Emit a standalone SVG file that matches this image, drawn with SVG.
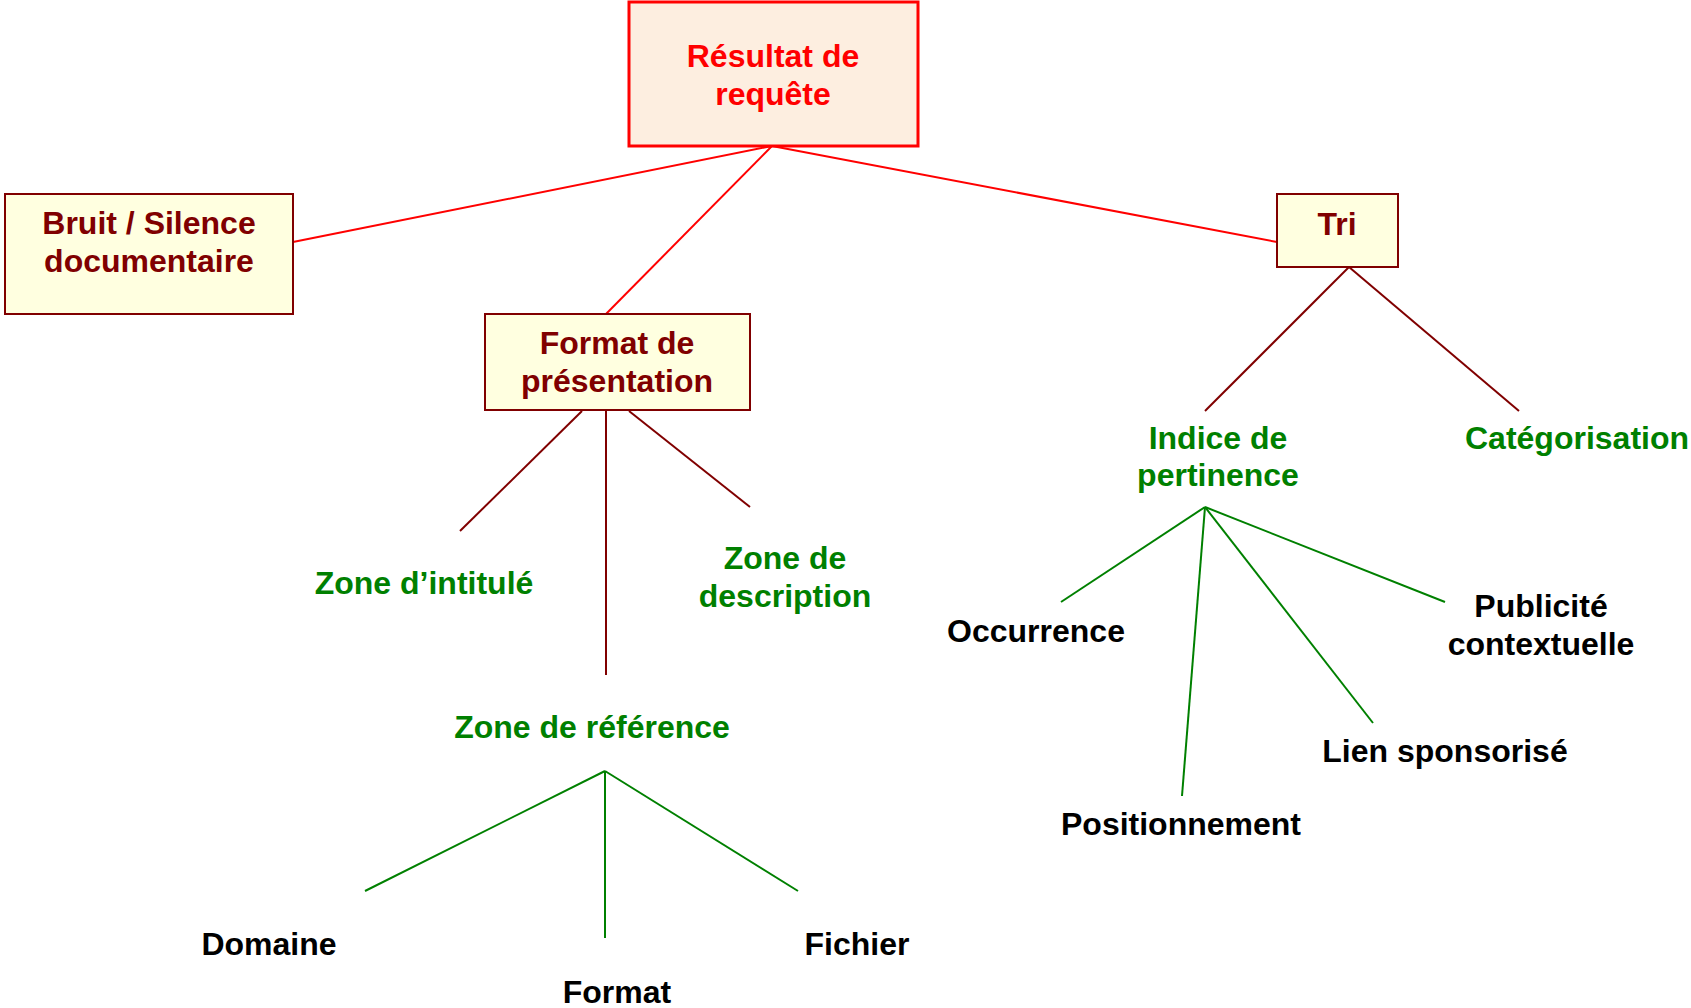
<svg xmlns="http://www.w3.org/2000/svg" width="1691" height="1008" viewBox="0 0 1691 1008">
<style>
text{font-family:"Liberation Sans",Arial,sans-serif;font-weight:bold;font-size:32px;text-anchor:middle}
.top{fill:#FDEEE0;stroke:#FF0000;stroke-width:3}
.box{fill:#FFFFE0;stroke:#800000;stroke-width:2}
.tr{fill:#FF0000}
.td{fill:#800000}
.tg{fill:#008000}
.tb{fill:#000000}
.lr{stroke:#FF0000;stroke-width:2;fill:none}
.ld{stroke:#800000;stroke-width:2;fill:none}
.lg{stroke:#008000;stroke-width:2;fill:none}
</style>
<rect width="1691" height="1008" fill="#FFFFFF"/>
<g id="connectors">
<line class="lr" x1="772" y1="146" x2="293" y2="242"/>
<line class="lr" x1="772" y1="146" x2="606" y2="314"/>
<line class="lr" x1="772" y1="146" x2="1277" y2="242"/>
<line class="ld" x1="582" y1="411" x2="460" y2="531"/>
<line class="ld" x1="606" y1="411" x2="606" y2="675"/>
<line class="ld" x1="629" y1="411" x2="750" y2="507"/>
<line class="ld" x1="1349" y1="267" x2="1205" y2="411"/>
<line class="ld" x1="1349" y1="267" x2="1519" y2="411"/>
<line class="lg" x1="605" y1="771" x2="365" y2="891"/>
<line class="lg" x1="605" y1="771" x2="605" y2="938"/>
<line class="lg" x1="605" y1="771" x2="798" y2="891"/>
<line class="lg" x1="1205" y1="507" x2="1061" y2="602"/>
<line class="lg" x1="1205" y1="507" x2="1182" y2="796"/>
<line class="lg" x1="1205" y1="507" x2="1373" y2="723"/>
<line class="lg" x1="1205" y1="507" x2="1445" y2="602"/>
</g>
<g id="resultat">
<rect class="top" x="629" y="2" width="289" height="144"/>
<text class="tr" x="773" y="67">Résultat de</text>
<text class="tr" x="773" y="105">requête</text>
</g>
<g id="bruit">
<rect class="box" x="5" y="194" width="288" height="120"/>
<text class="td" x="149" y="234">Bruit / Silence</text>
<text class="td" x="149" y="272">documentaire</text>
</g>
<g id="format-presentation">
<rect class="box" x="485" y="314" width="265" height="96"/>
<text class="td" x="617" y="354">Format de</text>
<text class="td" x="617" y="392">présentation</text>
</g>
<g id="tri">
<rect class="box" x="1277" y="194" width="121" height="73"/>
<text class="td" x="1337" y="235">Tri</text>
</g>
<g id="zone-intitule"><text class="tg" x="424" y="594">Zone d’intitulé</text></g>
<g id="zone-description">
<text class="tg" x="785" y="569">Zone de</text>
<text class="tg" x="785" y="607">description</text>
</g>
<g id="zone-reference"><text class="tg" x="592" y="738">Zone de référence</text></g>
<g id="domaine"><text class="tb" x="269" y="955">Domaine</text></g>
<g id="format"><text class="tb" x="617" y="1003">Format</text></g>
<g id="fichier"><text class="tb" x="857" y="955">Fichier</text></g>
<g id="indice">
<text class="tg" x="1218" y="449">Indice de</text>
<text class="tg" x="1218" y="486">pertinence</text>
</g>
<g id="categorisation"><text class="tg" x="1577" y="449">Catégorisation</text></g>
<g id="occurrence"><text class="tb" x="1036" y="642">Occurrence</text></g>
<g id="positionnement"><text class="tb" x="1181" y="835">Positionnement</text></g>
<g id="lien"><text class="tb" x="1445" y="762">Lien sponsorisé</text></g>
<g id="publicite">
<text class="tb" x="1541" y="617">Publicité</text>
<text class="tb" x="1541" y="655">contextuelle</text>
</g>
</svg>
